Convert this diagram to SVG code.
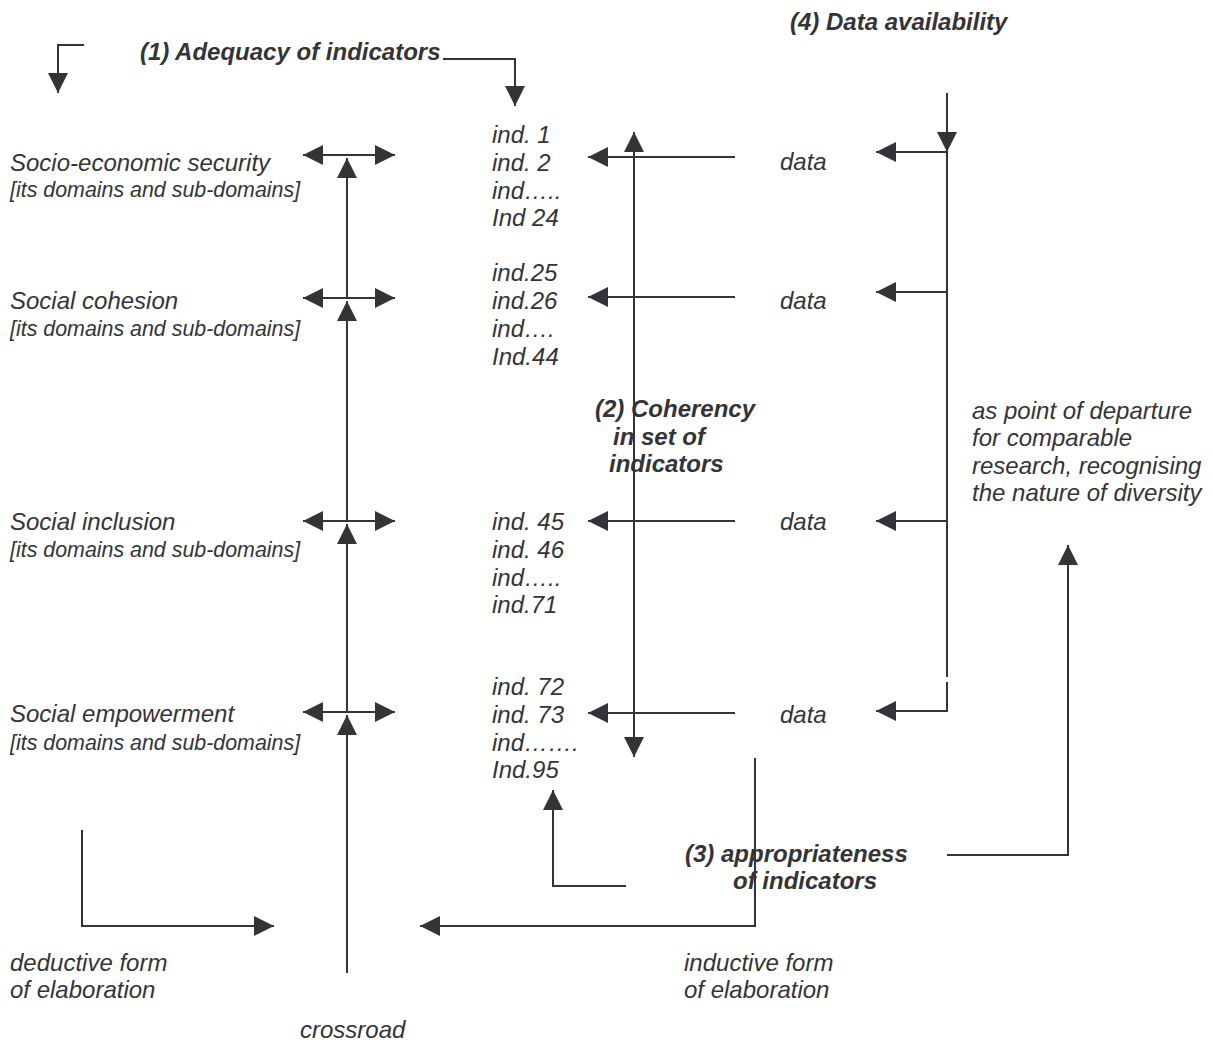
<svg xmlns="http://www.w3.org/2000/svg" width="1213" height="1043" viewBox="0 0 1213 1043">
<defs>
<marker id="ah" markerUnits="userSpaceOnUse" markerWidth="20" markerHeight="20" refX="20" refY="10" orient="auto-start-reverse" viewBox="0 0 20 20">
<path d="M0,0 L20,10 L0,20 Z" fill="#343438"/>
</marker>
<style>
text{font-family:"Liberation Sans",Arial,sans-serif;font-style:italic;fill:#343438;font-size:24px}
.b{font-weight:bold}
.s{font-size:21.4px}
.c{fill:none;stroke:#343438;stroke-width:2}
.a{marker-end:url(#ah)}
.d{marker-start:url(#ah);marker-end:url(#ah)}
</style>
</defs>
<rect width="1213" height="1043" fill="#fff"/>
<g id="connectors">
<path class="c a" d="M84,45 H58 V93"/>
<path class="c a" d="M443,59 H515 V106"/>
<path class="c a" d="M947,93 V152"/>
<path class="c" d="M947,152 V677"/>
<path class="c a" d="M947,682 V711 H876"/>
<path class="c a" d="M947,152 H876"/>
<path class="c a" d="M947,292 H876"/>
<path class="c a" d="M947,521 H876"/>
<path class="c a" d="M735,157 H588"/>
<path class="c a" d="M735,297 H588"/>
<path class="c a" d="M735,521 H588"/>
<path class="c a" d="M735,713 H588"/>
<path class="c d" d="M634,132 V757"/>
<path class="c d" d="M303,155 H395"/>
<path class="c d" d="M303,298 H395"/>
<path class="c d" d="M303,521 H395"/>
<path class="c d" d="M303,712 H395"/>
<path class="c a" d="M347,973 V715"/>
<path class="c a" d="M347,712 V524"/>
<path class="c a" d="M347,521 V301"/>
<path class="c a" d="M347,298 V158"/>
<path class="c a" d="M626,886 H553 V790"/>
<path class="c a" d="M82,830 V926 H274"/>
<path class="c a" d="M755,758 V926 H420"/>
<path class="c a" d="M947,855 H1068 V545"/>
</g>
<g id="title1"><text class="b" x="140" y="60">(1) Adequacy of indicators</text></g>
<g id="title4"><text class="b" x="790" y="30">(4) Data availability</text></g>
<g id="node-ses"><text x="10" y="171">Socio-economic security</text><text class="s" x="10" y="197">[its domains and sub-domains]</text></g>
<g id="node-sc"><text x="10" y="309">Social cohesion</text><text class="s" x="10" y="336">[its domains and sub-domains]</text></g>
<g id="node-si"><text x="10" y="530">Social inclusion</text><text class="s" x="10" y="557">[its domains and sub-domains]</text></g>
<g id="node-se"><text x="10" y="722">Social empowerment</text><text class="s" x="10" y="750">[its domains and sub-domains]</text></g>
<g id="ind-1"><text x="492" y="143">ind. 1</text><text x="492" y="171">ind. 2</text><text x="492" y="199">ind…..</text><text x="492" y="226">Ind 24</text></g>
<g id="ind-2"><text x="492" y="281">ind.25</text><text x="492" y="309">ind.26</text><text x="492" y="337">ind….</text><text x="492" y="365">Ind.44</text></g>
<g id="ind-3"><text x="492" y="530">ind. 45</text><text x="492" y="558">ind. 46</text><text x="492" y="586">ind…..</text><text x="492" y="613">ind.71</text></g>
<g id="ind-4"><text x="492" y="695">ind. 72</text><text x="492" y="723">ind. 73</text><text x="492" y="751">ind…….</text><text x="492" y="778">Ind.95</text></g>
<g id="data-1"><text x="780" y="170">data</text></g>
<g id="data-2"><text x="780" y="309">data</text></g>
<g id="data-3"><text x="780" y="530">data</text></g>
<g id="data-4"><text x="780" y="723">data</text></g>
<g id="coherency"><text class="b" x="595" y="417">(2) Coherency</text><text class="b" x="613" y="445">in set of</text><text class="b" x="609" y="472">indicators</text></g>
<g id="departure"><text x="972" y="419">as point of departure</text><text x="972" y="446">for comparable</text><text x="972" y="474">research, recognising</text><text x="972" y="501">the nature of diversity</text></g>
<g id="appropriateness"><text class="b" x="685" y="862">(3) appropriateness</text><text class="b" x="733" y="889">of indicators</text></g>
<g id="deductive"><text x="10" y="971">deductive form</text><text x="10" y="998">of elaboration</text></g>
<g id="inductive"><text x="684" y="971">inductive form</text><text x="684" y="998">of elaboration</text></g>
<g id="crossroad"><text x="300" y="1038">crossroad</text></g>
</svg>
